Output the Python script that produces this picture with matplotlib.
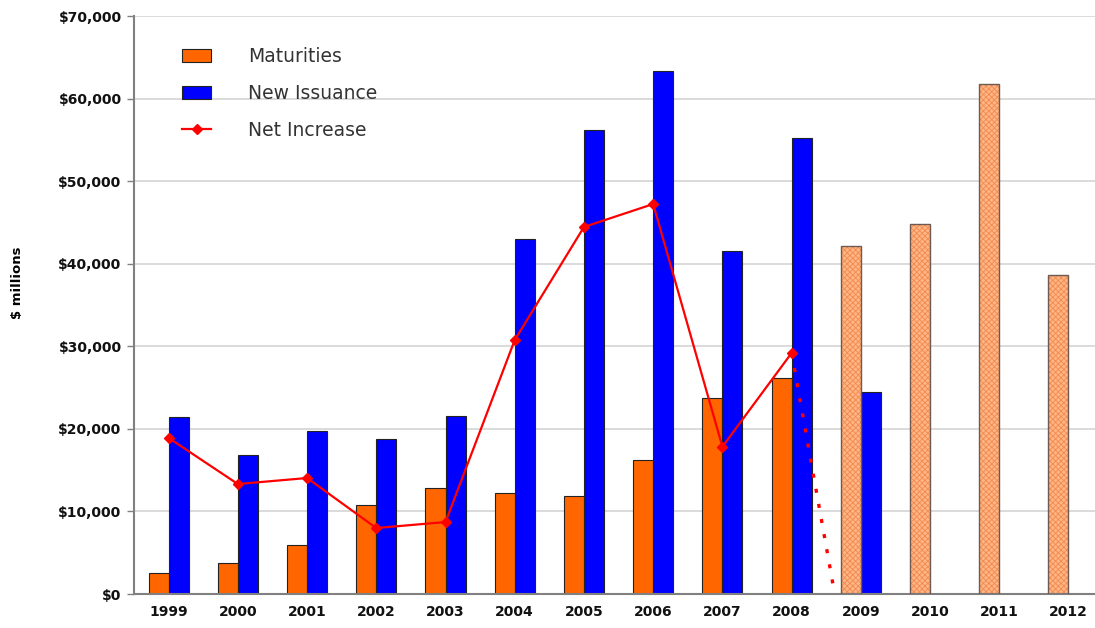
import matplotlib
matplotlib.use("Agg")
import matplotlib.pyplot as plt
import numpy as np
from matplotlib.patches import Patch
from matplotlib.lines import Line2D
from matplotlib.ticker import FuncFormatter

plt.rcParams["font.family"] = ["DejaVu Sans"]
plt.rcParams["hatch.linewidth"] = 0.6

years = ["1999", "2000", "2001", "2002", "2003", "2004", "2005",
         "2006", "2007", "2008", "2009", "2010", "2011", "2012"]

# $ millions; 2009-2012 maturities are scheduled (shown hatched)
maturities = [2540, 3750, 5930, 10780, 12840, 12270, 11870,
              16230, 23700, 26160, 42150, 44810, 61760, 38630]
new_issuance = [21440, 16830, 19740, 18770, 21560, 42990, 56190,
                63380, 41580, 55220, 24460]
net_increase = [18900, 13320, 14050, 7990, 8720, 30760, 44450,
                47230, 17840, 29190]
net_2009 = -17690

n_actual = 10  # years with realised maturities

x = np.arange(len(years))
w = 0.29

fig = plt.figure(figsize=(10.95, 6.28), dpi=100)
ax = fig.add_axes([0.1224, 0.0541, 0.885, 0.9204])

# realised maturities and new issuance
ax.bar(x[:n_actual] - w / 2, maturities[:n_actual], w,
       color="#FF6600", edgecolor="#222222", linewidth=0.8, zorder=2)
ax.bar(x[:len(new_issuance)] + w / 2, new_issuance, w,
       color="#0000FF", edgecolor="#222222", linewidth=0.8, zorder=2)

# scheduled maturities, fine cross-hatch
ax.bar(x[n_actual:] - w / 2, maturities[n_actual:], w,
       color="#FFB584", edgecolor="#F08A50", hatch="xxxxxx",
       linewidth=0, zorder=2)
ax.bar(x[n_actual:] - w / 2, maturities[n_actual:], w,
       fill=False, edgecolor="#6E5A50", linewidth=1.0, zorder=3)

# net increase line plus dotted projection into 2009
ax.plot(x[:n_actual], net_increase, color="#FF0000", lw=1.6,
        marker="D", ms=5, zorder=5)
ax.plot([x[n_actual - 1], x[n_actual]], [net_increase[-1], net_2009],
        color="#FF0000", lw=2.4, linestyle=(0, (1.2, 3.4)), zorder=5)

ax.set_xlim(-0.5, len(years) - 0.5)
ax.set_ylim(0, 70000)
ax.set_yticks(np.arange(0, 70001, 10000))
ax.yaxis.set_major_formatter(FuncFormatter(lambda v, p: f"${v:,.0f}"))
ax.set_xticks(x)
ax.set_xticklabels(years)
ax.tick_params(axis="x", length=0, pad=8, labelsize=10)
ax.tick_params(axis="y", length=5, width=1, color="#808080",
               pad=4, labelsize=10)
for lab in ax.get_xticklabels() + ax.get_yticklabels():
    lab.set_fontweight("bold")
    lab.set_color("#111111")

ax.grid(axis="y", color="#D4D4D4", lw=1.2, zorder=0)
ax.set_axisbelow(True)
for s in ["top", "right"]:
    ax.spines[s].set_visible(False)
for s in ["left", "bottom"]:
    ax.spines[s].set_color("#808080")
    ax.spines[s].set_linewidth(1.5)

fig.text(18 / 1095, 1 - 283 / 628, "$ millions", rotation=90,
         ha="center", va="center", fontsize=9.5, fontweight="bold")

handles = [
    Patch(facecolor="#FF6600", edgecolor="#222222", linewidth=0.8),
    Patch(facecolor="#0000FF", edgecolor="#222222", linewidth=0.8),
    Line2D([], [], color="#FF0000", lw=1.6, marker="D", ms=5),
]
labels = ["Maturities", "New Issuance", "Net Increase"]
fig.legend(handles, labels, loc="upper left",
           bbox_to_anchor=(182 / 1095, 1 - 47 / 628),
           frameon=False, fontsize=13.5, borderpad=0, borderaxespad=0,
           handlelength=1.55, handletextpad=1.95, labelspacing=0.95,
           handleheight=0.7, labelcolor="#333333")

fig.savefig("out.png", dpi=100)
